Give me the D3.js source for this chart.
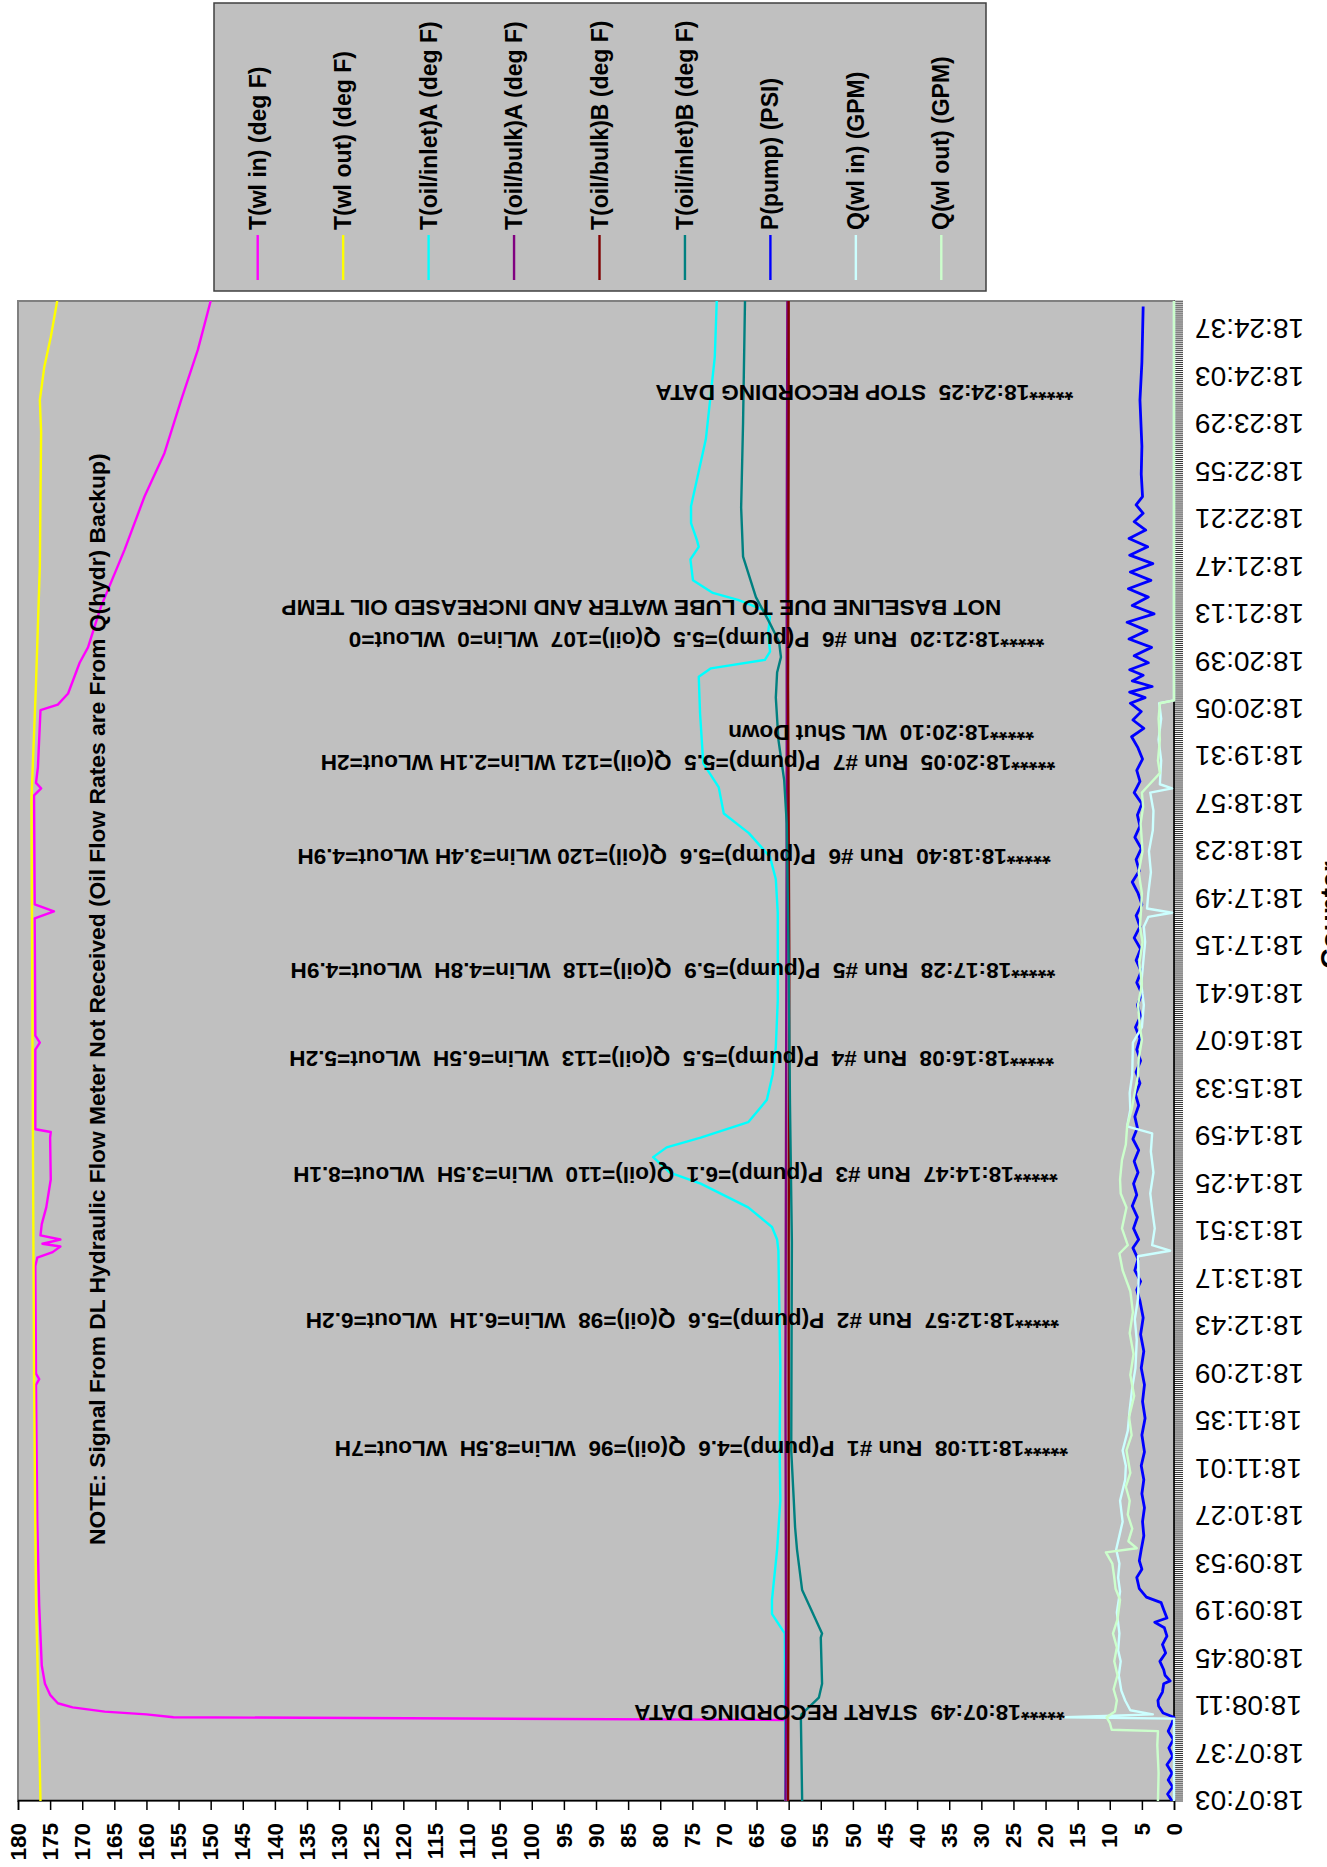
<!DOCTYPE html>
<html>
<head>
<meta charset="utf-8">
<script src="https://cdn.jsdelivr.net/npm/d3@7"></script>
<style>
  html, body { margin: 0; padding: 0; background: #fff; }
  svg { display: block; font-family: "Liberation Sans", Arial, sans-serif; }
  .note { white-space: pre; }
</style>
</head>
<body>
<div id="chart"></div>
<script>
// ---- data (time = seconds after 18:07:03, value on the shared left axis) ----
const timeLabels = ["18:07:03","18:07:37","18:08:11","18:08:45","18:09:19","18:09:53","18:10:27","18:11:01",
  "18:11:35","18:12:09","18:12:43","18:13:17","18:13:51","18:14:25","18:14:59","18:15:33","18:16:07","18:16:41",
  "18:17:15","18:17:49","18:18:23","18:18:57","18:19:31","18:20:05","18:20:39","18:21:13","18:21:47","18:22:21",
  "18:22:55","18:23:29","18:24:03","18:24:37"];
const valueTicks = [0,5,10,15,20,25,30,35,40,45,50,55,60,65,70,75,80,85,90,95,100,105,110,115,120,125,130,135,140,145,150,155,160,165,170,175,180];

const seriesNames = ["T(wl in) (deg F)","T(wl out) (deg F)","T(oil/inlet)A (deg F)","T(oil/bulk)A (deg F)",
  "T(oil/bulk)B (deg F)","T(oil/inlet)B (deg F)","P(pump) (PSI)","Q(wl in) (GPM)","Q(wl out) (GPM)"];

const tWlIn = [[0,60.3],[58,60.3],[60,155.8],[62,160],[64,166.5],[67,171.5],[70,173.8],[76,175],[84,175.8],[97,176.3],
  [140,176.7],[200,177],[298,177.2],[302,176.7],[306,177.2],[383,177.3],[389,177.0],[393,174.6],[397,173.4],[399,176.2],
  [402,173.4],[405,176.5],[413,176.3],[425,175.6],[445,174.9],[475,175.0],[479,174.9],[481,177.3],[538,177.3],[543,176.6],
  [548,177.3],[632,177.4],[637,174.4],[642,177.4],[720,177.5],[725,176.4],[729,177.2],[740,176.9],[781,176.5],[785,173.8],
  [793,172.2],[815,170.4],[826,169.1],[855,167.1],[896,163.4],[934,160.3],[965,157.2],[1003,154.6],[1039,152],[1074,150]];
const tWlOut = [[0,176.5],[70,176.8],[143,177.2],[300,177.5],[500,177.7],[717,177.9],[800,177.2],[884,176.6],
  [980,176.4],[1003,176.6],[1027,175.9],[1048,174.9],[1074,173.9]];
const tOilInletA = [[0,60.5],[120,60.6],[122,60.9],[134,62.6],[144,62.6],[180,61.8],[215,61.3],[251,61.4],[311,61.3],
  [394,61.6],[402,61.8],[411,62.6],[425,66.3],[442,73.7],[450,78.5],[461,81.1],[468,79],[475,73.7],[486,66.3],[502,63.4],
  [520,62.5],[540,62],[573,61.7],[636,61.7],[660,62],[676,62.9],[693,66.2],[707,70.1],[726,70.9],[743,73.3],[779,73.8],
  [805,74],[811,72.1],[817,63.7],[823,62.9],[836,63.2],[848,62.9],[853,64],[860,67.9],[865,71.8],[874,74.9],[889,75.3],
  [898,74],[903,74.3],[915,75.2],[927,75.2],[975,72.9],[1034,71.5],[1074,71.2]];
const tOilBulkA = [[0,60.5],[100,60.4],[300,60.5],[500,60.4],[700,60.3],[900,60.3],[1074,60.2]];
const tOilBulkB = [[0,60.1],[200,60.0],[400,60.0],[600,59.9],[800,60.1],[1000,60.0],[1074,60.0]];
const tOilInletB = [[0,57.9],[60,58.1],[62,58.0],[74,55.3],[84,54.8],[117,55.0],[120,54.8],[128,55.6],[151,57.9],
  [180,58.7],[196,59.0],[215,59.2],[251,59.6],[400,59.5],[500,59.8],[600,60.0],[700,60.3],[731,60.7],[760,61.6],
  [790,62.0],[808,61.8],[819,61.2],[830,61.5],[843,62.9],[862,65.1],[891,67.1],[926,67.4],[987,67.1],[1074,66.8]];
const pPump = [[0,0.3],[5,1.0],[10,0.2],[15,0.9],[20,0.3],[26,1.1],[32,0.2],[38,0.8],[44,0.1],[50,0.9],[56,0.3],[60,0.0],
  [63,1.7],[68,2.4],[72,2.5],[78,1.8],[84,1.6],[86,0.6],[90,1.4],[94,1.6],[100,2.2],[106,1.3],[112,1.8],[118,1.1],
  [124,1.5],[128,3.0],[131,1.1],[137,1.6],[142,2.0],[146,4.3],[152,5.4],[160,5.8],[166,5.0],[172,5.4],[180,5.1],
  [190,4.7],[200,4.9],[210,4.6],[220,5.0],[230,4.7],[240,5.1],[250,4.6],[262,5.0],[274,4.5],[286,4.9],[298,4.6],
  [310,5.1],[322,4.7],[334,5.2],[346,4.8],[358,5.3],[366,5.8],[372,5.2],[380,6.1],[388,5.6],[396,6.4],[402,5.5],
  [410,6.3],[418,5.7],[426,6.5],[434,5.8],[442,6.3],[450,5.6],[458,6.2],[466,5.5],[474,6.4],[482,5.7],[490,6.1],
  [498,5.5],[506,6.0],[514,5.3],[522,5.9],[530,5.2],[538,5.8],[546,5.3],[554,6.0],[562,5.2],[570,5.7],[578,5.0],
  [586,5.8],[594,5.1],[602,5.9],[610,5.2],[618,6.2],[626,5.3],[634,5.9],[642,5.0],[650,5.6],[658,6.5],[666,5.4],
  [674,5.9],[682,5.1],[690,6.1],[698,5.3],[706,5.7],[714,5.0],[722,6.2],[730,5.3],[738,5.8],[746,4.9],[754,5.6],
  [762,6.6],[768,4.7],[774,6.4],[780,5.1],[786,6.8],[790,4.5],[794,6.9],[798,3.4],[802,6.5],[806,4.8],[810,6.9],
  [815,4.0],[820,6.2],[826,3.5],[832,7.0],[838,4.2],[844,7.3],[850,3.1],[856,6.5],[862,4.0],[868,7.1],[874,3.6],
  [880,6.8],[886,3.3],[892,6.9],[898,4.1],[904,7.0],[910,4.4],[916,6.2],[922,4.8],[928,5.9],[934,4.9],[950,5.1],
  [970,5.0],[1003,5.3],[1030,5.0],[1050,4.9],[1070,4.8]];
const qWlIn = [[0,0],[59,0],[60,16.9],[62,3.3],[65,6.8],[72,7.6],[79,8.2],[90,8.6],[100,8.3],[108,8.7],[120,8.5],
  [135,8.9],[150,8.4],[160,8.7],[170,8.5],[180,9.0],[190,8.5],[200,8.0],[215,8.4],[230,7.6],[240,7.5],[251,8.0],
  [265,7.2],[280,6.9],[296,6.5],[310,6.0],[330,5.8],[345,6.1],[360,5.6],[375,5.5],[390,5.6],[394,0.6],[398,3.4],
  [410,3.0],[420,3.3],[435,3.7],[450,3.2],[465,3.6],[478,3.4],[483,7.3],[495,6.8],[507,6.9],[520,6.5],[543,6.4],
  [554,5.0],[570,4.7],[585,5.1],[600,4.8],[615,4.5],[626,4.7],[633,4.0],[636,0.3],[639,4.2],[650,4.0],[665,3.6],
  [680,3.9],[695,3.3],[709,3.2],[722,3.7],[725,0.3],[728,2.2],[745,2.0],[760,2.4],[775,2.0],[786,2.3],[788,0],[1074,0]];
const qWlOut = [[0,2.5],[20,2.4],[40,2.6],[50,2.5],[51,9.7],[56,10.0],[60,10.5],[64,9.2],[72,8.9],[80,9.4],[90,8.8],
  [100,9.3],[110,8.9],[120,9.5],[130,8.8],[144,8.4],[152,9.1],[160,9.3],[170,9.6],[178,10.6],[181,5.8],[186,7.1],
  [195,6.5],[205,7.2],[215,6.9],[225,7.5],[235,6.8],[251,7.4],[262,6.6],[275,7.0],[290,6.2],[305,6.8],[320,6.3],
  [335,6.9],[350,6.4],[365,6.8],[380,8.0],[392,8.5],[398,7.2],[410,8.1],[425,7.4],[435,8.3],[445,8.4],[459,8.1],
  [470,7.5],[483,7.3],[495,6.6],[510,6.0],[520,5.6],[531,5.5],[545,5.0],[554,5.3],[570,5.6],[585,5.0],[600,5.4],
  [615,4.9],[626,5.3],[640,5.1],[650,5.0],[665,5.5],[680,4.9],[700,5.2],[712,4.8],[722,5.0],[726,4.2],[736,2.2],
  [745,2.5],[760,2.2],[775,2.4],[786,2.2],[788,0],[1074,0]];

// annotation text boxes: [time, level where the text starts, text]
const notes = [
  [63, 17.0, "*****18:07:49  START RECORDING DATA"],
  [252, 16.5, "*****18:11:08  Run #1  P(pump)=4.6  Q(oil)=96  WLin=8.5H  WLout=7H"],
  [344, 17.9, "*****18:12:57  Run #2  P(pump)=5.6  Q(oil)=98  WLin=6.1H  WLout=6.2H"],
  [448, 18.1, "*****18:14:47  Run #3  P(pump)=6.1  Q(oil)=110  WLin=3.5H  WLout=8.1H"],
  [531, 18.7, "*****18:16:08  Run #4  P(pump)=5.5  Q(oil)=113  WLin=6.5H  WLout=5.2H"],
  [594, 18.5, "*****18:17:28  Run #5  P(pump)=5.9  Q(oil)=118  WLin=4.8H  WLout=4.9H"],
  [676, 19.2, "*****18:18:40  Run #6  P(pump)=5.6  Q(oil)=120 WLin=3.4H WLout=4.9H"],
  [743, 18.5, "*****18:20:05  Run #7  P(pump)=5.5  Q(oil)=121 WLin=2.1H WLout=2H"],
  [765, 21.8, "*****18:20:10  WL Shut Down"],
  [831, 20.2, "*****18:21:20  Run #6  P(pump)=5.5  Q(oil)=107  WLin=0  WLout=0"],
  [854, 26.9, "NOT BASELINE DUE TO LUBE WATER AND INCREASED OIL TEMP"],
  [1008, 15.7, "*****18:24:25  STOP RECORDING DATA"]
];
const noteText = "NOTE: Signal From DL Hydraulic Flow Meter Not Received (Oil Flow Rates are From Q(hydr) Backup)";

const seriesData = [tWlIn, tWlOut, tOilInletA, tOilBulkA, tOilBulkB, tOilInletB, pPump, qWlIn, qWlOut];
const colors = ["#ff00ff","#ffff00","#00ffff","#800080","#800000","#008080","#0000ff","#ccffff","#ccffcc"];

// ---- drawing: chart is built upright, then turned a quarter turn onto the page ----
const pageW = 1327, pageH = 1867;
const svg = d3.select("#chart").append("svg")
  .attr("width", pageW).attr("height", pageH);

const g = svg.append("g")
  .attr("transform", "translate(0," + pageH + ") rotate(-90)");

const plot = { left: 66, right: 1566, top: 18, bottom: 1174 };
const startSec = 18 * 3600 + 7 * 60 + 3;
const toSec = s => { const p = s.split(":").map(Number); return p[0] * 3600 + p[1] * 60 + p[2] - startSec; };

const x = d3.scaleLinear().domain([0, 1074]).range([plot.left, plot.right]);
const y = d3.scaleLinear().domain([0, 180]).range([plot.bottom, plot.top]);

// plot area
g.append("rect")
  .attr("x", plot.left).attr("y", plot.top)
  .attr("width", plot.right - plot.left).attr("height", plot.bottom - plot.top)
  .attr("fill", "#c0c0c0").attr("stroke", "#808080").attr("stroke-width", 2);

g.append("clipPath").attr("id", "clip").append("rect")
  .attr("x", plot.left).attr("y", plot.top - 2)
  .attr("width", plot.right - plot.left).attr("height", plot.bottom - plot.top + 4);

// value axis
const yAxis = g.append("g").attr("transform", "translate(" + plot.left + ",0)")
  .call(d3.axisLeft(y).tickValues(valueTicks).tickSize(9).tickPadding(13).tickFormat(d3.format("d")));
yAxis.select(".domain").attr("stroke", "#000").attr("stroke-width", 1.5);
yAxis.selectAll(".tick line").attr("stroke", "#000").attr("stroke-width", 1.5);
yAxis.selectAll(".tick text")
  .attr("font-size", "22.5px").attr("font-weight", "bold").attr("fill", "#000")
  .attr("font-family", "'Liberation Sans', Arial, sans-serif");

// time axis: one small tick per sample, a label every 34 s
const minorTicks = d3.range(0, 1074, 34 / 24);
g.append("g").selectAll("line").data(minorTicks).join("line")
  .attr("x1", d => x(d)).attr("x2", d => x(d))
  .attr("y1", plot.bottom).attr("y2", plot.bottom + 9)
  .attr("stroke", "#000").attr("stroke-width", 0.8);
g.append("line")
  .attr("x1", plot.left).attr("x2", plot.right)
  .attr("y1", plot.bottom).attr("y2", plot.bottom)
  .attr("stroke", "#000").attr("stroke-width", 1.5);
g.append("g").selectAll("text").data(timeLabels).join("text")
  .attr("transform", d => "translate(" + x(toSec(d)) + "," + (plot.bottom + 21) + ") rotate(-90)")
  .attr("text-anchor", "end").attr("dy", "0.35em")
  .attr("font-size", "28px").attr("fill", "#000")
  .text(d => d);

// axis title, mostly beyond the page edge
g.append("text")
  .attr("x", 952).attr("y", 1340)
  .attr("text-anchor", "middle")
  .attr("font-size", "28px").attr("font-weight", "bold")
  .text("Counter");

// series
const line = d3.line().x(d => x(d[0])).y(d => y(d[1]));
g.append("g").attr("clip-path", "url(#clip)")
  .selectAll("path").data(seriesData).join("path")
  .attr("d", line)
  .attr("fill", "none")
  .attr("stroke", (d, i) => colors[i])
  .attr("stroke-width", (d, i) => i === 6 ? 2.8 : 2.4)
  .attr("stroke-linejoin", "round");

// annotations
g.append("g").selectAll("text").data(notes).join("text")
  .attr("class", "note")
  .attr("transform", d => "translate(" + x(d[0]) + "," + y(d[1]) + ") rotate(-90)")
  .attr("dy", "0.35em")
  .attr("font-size", "22.6px").attr("font-weight", "bold").attr("fill", "#000")
  .text(d => d[2]);

g.append("text")
  .attr("x", 322).attr("y", 105)
  .attr("font-size", "22.8px").attr("font-weight", "bold").attr("fill", "#000")
  .text(noteText);

// legend
const legend = g.append("g");
legend.append("rect")
  .attr("x", 1576).attr("y", 214).attr("width", 288).attr("height", 772)
  .attr("fill", "#c0c0c0").attr("stroke", "#404040").attr("stroke-width", 1.5);
const rows = legend.selectAll("g").data(seriesNames).join("g")
  .attr("transform", (d, i) => "translate(0," + (257.7 + i * 85.45) + ")");
rows.append("line")
  .attr("x1", 1587).attr("x2", 1632)
  .attr("stroke", (d, i) => colors[i]).attr("stroke-width", 2.4);
rows.append("text")
  .attr("x", 1637).attr("dy", "0.35em")
  .attr("font-size", "23px").attr("font-weight", "bold")
  .text(d => d);
</script>
</body>
</html>
